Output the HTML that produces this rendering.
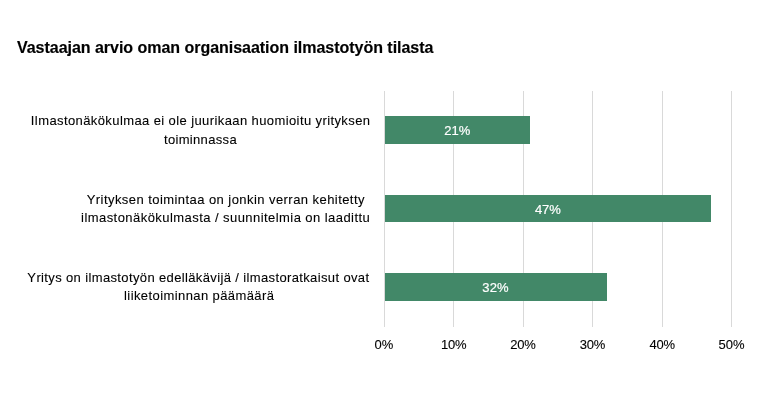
<!DOCTYPE html>
<html><head><meta charset="utf-8">
<style>
html,body{margin:0;padding:0;background:#fff;}
#c{will-change:transform;position:relative;width:770px;height:420px;overflow:hidden;background:#fff;font-family:"Liberation Sans",sans-serif;}
.t{position:absolute;white-space:nowrap;line-height:20px;}
.g{position:absolute;top:91px;height:236px;width:1px;background:#d9d9d9;}
.bar{position:absolute;left:385px;background:#428868;}
</style></head><body>
<div id="c">
<div class="g" style="left:384px"></div><div class="g" style="left:453px"></div><div class="g" style="left:523px"></div><div class="g" style="left:592px"></div><div class="g" style="left:662px"></div><div class="g" style="left:731px"></div>
<div class="bar" style="top:116px;height:28px;width:145px"></div><div class="bar" style="top:195px;height:27px;width:326px"></div><div class="bar" style="top:273px;height:28px;width:222px"></div>
<div class="t" id="title" style="left:16.96px;top:38.00px;font-size:16px;letter-spacing:-0.027px;color:#000;font-weight:bold;-webkit-text-stroke:0.15px #000;">Vastaajan arvio oman organisaation ilmastotyön tilasta</div>
<div class="t" id="L1a" style="left:30.85px;top:111.00px;font-size:13px;letter-spacing:0.401px;color:#000;-webkit-text-stroke:0.1px #000;">Ilmastonäkökulmaa ei ole juurikaan huomioitu yrityksen</div>
<div class="t" id="L1b" style="left:163.96px;top:130.00px;font-size:13px;letter-spacing:0.332px;color:#000;-webkit-text-stroke:0.1px #000;">toiminnassa</div>
<div class="t" id="L2a" style="left:86.71px;top:190.00px;font-size:13px;letter-spacing:0.440px;color:#000;-webkit-text-stroke:0.1px #000;">Yrityksen toimintaa on jonkin verran kehitetty</div>
<div class="t" id="L2b" style="left:81.09px;top:208.00px;font-size:13px;letter-spacing:0.442px;color:#000;-webkit-text-stroke:0.1px #000;">ilmastonäkökulmasta / suunnitelmia on laadittu</div>
<div class="t" id="L3a" style="left:27.35px;top:268.00px;font-size:13px;letter-spacing:0.367px;color:#000;-webkit-text-stroke:0.1px #000;">Yritys on ilmastotyön edelläkävijä / ilmastoratkaisut ovat</div>
<div class="t" id="L3b" style="left:124.08px;top:286.00px;font-size:13px;letter-spacing:0.408px;color:#000;-webkit-text-stroke:0.1px #000;">liiketoiminnan päämäärä</div>
<div class="t" id="ax0" style="left:374.46px;top:335.00px;font-size:13px;letter-spacing:0.189px;color:#000;-webkit-text-stroke:0.1px #000;">0%</div>
<div class="t" id="ax10" style="left:440.91px;top:335.00px;font-size:13px;letter-spacing:-0.215px;color:#000;-webkit-text-stroke:0.1px #000;">10%</div>
<div class="t" id="ax20" style="left:510.21px;top:335.00px;font-size:13px;letter-spacing:-0.146px;color:#000;-webkit-text-stroke:0.1px #000;">20%</div>
<div class="t" id="ax30" style="left:579.68px;top:335.00px;font-size:13px;letter-spacing:-0.225px;color:#000;-webkit-text-stroke:0.1px #000;">30%</div>
<div class="t" id="ax40" style="left:649.60px;top:335.00px;font-size:13px;letter-spacing:-0.305px;color:#000;-webkit-text-stroke:0.1px #000;">40%</div>
<div class="t" id="ax50" style="left:718.49px;top:335.00px;font-size:13px;letter-spacing:0.001px;color:#000;-webkit-text-stroke:0.1px #000;">50%</div>
<div class="t" id="d21" style="left:444.30px;top:121.00px;font-size:13px;letter-spacing:-0.028px;color:#fff;-webkit-text-stroke:0.2px #fff;">21%</div>
<div class="t" id="d47" style="left:534.93px;top:200.00px;font-size:13px;letter-spacing:-0.085px;color:#fff;-webkit-text-stroke:0.2px #fff;">47%</div>
<div class="t" id="d32" style="left:482.32px;top:278.00px;font-size:13px;letter-spacing:0.136px;color:#fff;-webkit-text-stroke:0.2px #fff;">32%</div>
</div>
</body></html>
